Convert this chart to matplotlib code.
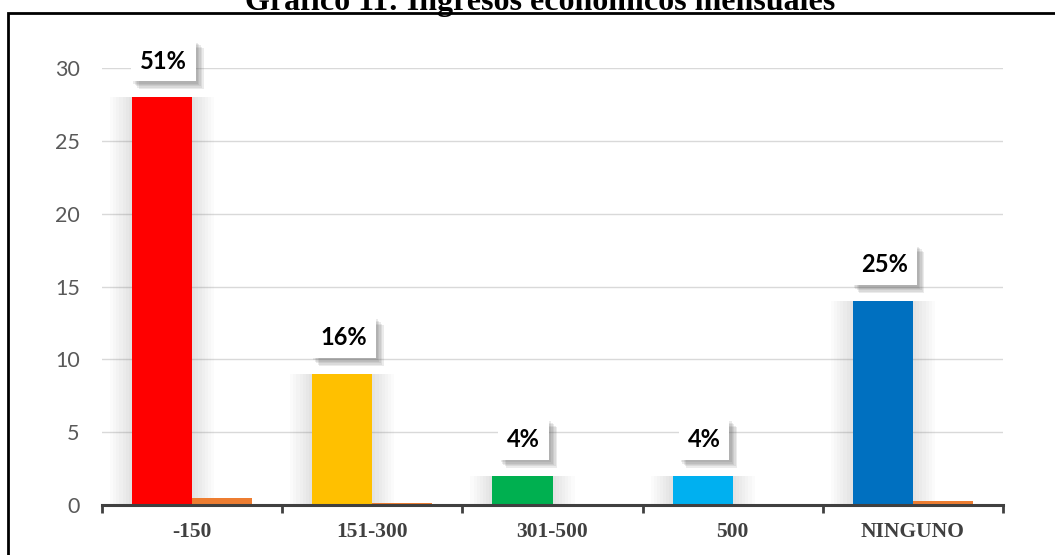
import numpy as np
import matplotlib
matplotlib.use('Agg')
import matplotlib.pyplot as plt
import matplotlib.patheffects as pe
from matplotlib.patches import Rectangle

# Datos del grafico
categorias = ['-150', '151-300', '301-500', '500', 'NINGUNO']
frecuencia = [28, 9, 2, 2, 14]
porcentaje = [0.51, 0.16, 0.04, 0.04, 0.25]
etiquetas = ['51%', '16%', '4%', '4%', '25%']
colores = ['#FF0000', '#FFC000', '#00B050', '#00B0F0', '#0070C0']

fig = plt.figure(figsize=(10.55, 5.55), dpi=100)
ax = fig.add_axes([102/1055, 1-505/555, (1003-102)/1055, (505-68)/555])

# marco exterior
fig.patches.append(Rectangle((8/1055, -0.05), 1.2, 1-13/555+0.05, transform=fig.transFigure,
                             fill=False, edgecolor='black', linewidth=2))

x = np.arange(len(categorias))
w = 1/3

# sombra suave alrededor de las barras
for k in range(1, 8):
    ax.bar(x - w/2, frecuencia, w + k*0.035, color='gray', alpha=0.03, zorder=1)

ax.bar(x - w/2, frecuencia, w, color=colores, zorder=3)
ax.bar(x + w/2, porcentaje, w, color='#ED7D31', zorder=3)

sombra = [pe.SimplePatchShadow(offset=(1.5 + k, -1.5 - k), shadow_rgbFace='#606060', alpha=0.12)
          for k in range(5)]
for i in range(len(categorias)):
    t = ax.annotate(etiquetas[i], (x[i] - w/2, frecuencia[i]), xytext=(1, 26),
                    textcoords='offset points', ha='center', va='center',
                    fontsize=17, fontweight='bold', family='Lato', color='black',
                    annotation_clip=False, zorder=5,
                    bbox=dict(boxstyle='square,pad=0.38', fc='white', ec='none'))
    t.get_bbox_patch().set_path_effects(sombra + [pe.Normal()])

ax.set_xlim(-0.5, 4.5)
ax.set_ylim(0, 30)
ax.set_yticks(np.arange(0, 31, 5))
ax.yaxis.grid(True, color='#d9d9d9', linewidth=1, zorder=0)
ax.set_axisbelow(True)

for s in ['top', 'right', 'left']:
    ax.spines[s].set_visible(False)
ax.spines['bottom'].set_color('#404040')
ax.spines['bottom'].set_linewidth(2.2)
ax.spines['bottom'].set_zorder(4)

ax.set_xticks(x)
ax.set_xticklabels(categorias, family='Liberation Serif', fontweight='bold',
                   fontsize=15.5, color='#404040')
ax.set_xticks(np.arange(-0.5, 5, 1), minor=True)
ax.tick_params(axis='x', which='major', length=0, pad=12)
ax.tick_params(axis='x', which='minor', length=6, width=2, color='#404040', direction='out')
ax.tick_params(axis='y', length=0, pad=16, labelsize=15.5, labelcolor='#595959')
for lab in ax.get_yticklabels():
    lab.set_family('Lato')

fig.text(540/1055, 1-10/555, 'Gráfico 11: Ingresos económicos mensuales', ha='center',
         va='baseline', family='Liberation Serif', fontweight='bold', fontsize=23)

fig.savefig('out.png', dpi=100)
